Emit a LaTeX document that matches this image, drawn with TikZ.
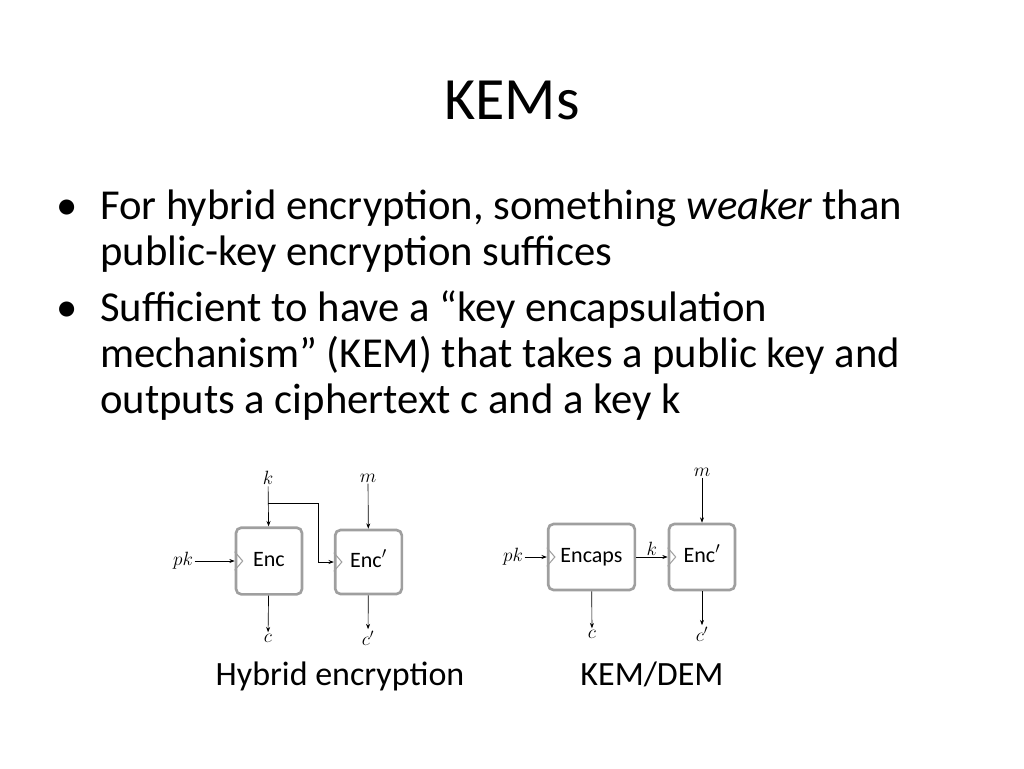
\documentclass[tikz,border=0pt]{standalone}
\usepackage{fontspec}
\setmainfont{Carlito}
\usetikzlibrary{arrows.meta}
\begin{document}
\begin{tikzpicture}[x=0.75pt,y=-0.75pt,
  blk/.style={draw=gray!75,line width=2pt,rounded corners=4pt,inner sep=0pt,font=\fontsize{16.5}{18}\selectfont,text height=11pt,text depth=3pt},
  lab/.style={font=\fontsize{14}{16}\selectfont,inner sep=1pt},
  arr/.style={-{Stealth[length=4pt,width=3pt]},line width=0.5pt},
  body/.style={font=\fontsize{32}{38}\selectfont,anchor=base west,inner sep=0pt}]
\useasboundingbox (0,0) rectangle (1024,768);
\node (title) at (512,100) {\fontsize{45}{50}\selectfont KEMs};
\node[body] (b1) at (56,219) {•};
\node[body] (t1) at (100,219) {For hybrid encryption, something \textit{weaker} than};
\node[body] (t2) at (100,265) {public-key encryption suffices};
\node[body] (b2) at (56,321) {•};
\node[body] (t3) at (100,321) {Sufficient to have a “key encapsulation};
\node[body] (t4) at (100,367) {mechanism” (KEM) that takes a public key and};
\node[body] (t5) at (100,413) {outputs a ciphertext c and a key k};
% left diagram
\node[blk,minimum width=49.5pt,minimum height=50pt] (enc) at (269,561) {Enc};
\node[blk,minimum width=50pt,minimum height=48pt] (encp) at (368.5,562) {Enc$'$};
\node[lab] (k1) at (268,478) {$k$};
\node[lab] (m1) at (368,478) {$m$};
\node[lab] (pk1) at (183,561) {$pk$};
\node[lab] (c1) at (268,638) {$c$};
\node[lab] (cp1) at (368,638) {$c'$};
\draw[arr] (k1) -- (enc);
\coordinate (br) at (268,503);
\draw[arr] (br) -| (318,562) -- (encp.west);
\draw[arr] (m1) -- (encp);
\draw[arr] (pk1) -- (enc);
\draw[arr] (enc) -- (c1);
\draw[arr] (encp) -- (cp1);
\draw[gray!75,line width=0.8pt] ([yshift=-7pt]enc.west) -- ++(6pt,7pt) -- ++(-6pt,7pt);
\draw[gray!75,line width=0.8pt] ([yshift=-7pt]encp.west) -- ++(6pt,7pt) -- ++(-6pt,7pt);
% right diagram
\node[blk,minimum width=65pt,minimum height=49.5pt] (encaps) at (591.5,557) {Encaps};
\node[blk,minimum width=49.5pt,minimum height=49.5pt] (encq) at (702,557) {Enc$'$};
\node[lab] (m2) at (702,472) {$m$};
\node[lab] (pk2) at (513,557) {$pk$};
\node[lab] (c2) at (592,634) {$c$};
\node[lab] (cp2) at (702,634) {$c'$};
\draw[arr] (m2) -- (encq);
\draw[arr] (pk2) -- (encaps);
\draw[arr] (encaps) -- node[lab,above] {$k$} (encq);
\draw[arr] (encaps) -- (c2);
\draw[arr] (encq) -- (cp2);
\draw[gray!75,line width=0.8pt] ([yshift=-7pt]encaps.west) -- ++(6pt,7pt) -- ++(-6pt,7pt);
\draw[gray!75,line width=0.8pt] ([yshift=-7pt]encq.west) -- ++(6pt,7pt) -- ++(-6pt,7pt);
\node[font=\fontsize{25.5}{30}\selectfont,anchor=base] (cap1) at (340,685) {Hybrid encryption};
\node[font=\fontsize{25.5}{30}\selectfont,anchor=base] (cap2) at (652,685) {KEM/DEM};
\end{tikzpicture}
\end{document}
